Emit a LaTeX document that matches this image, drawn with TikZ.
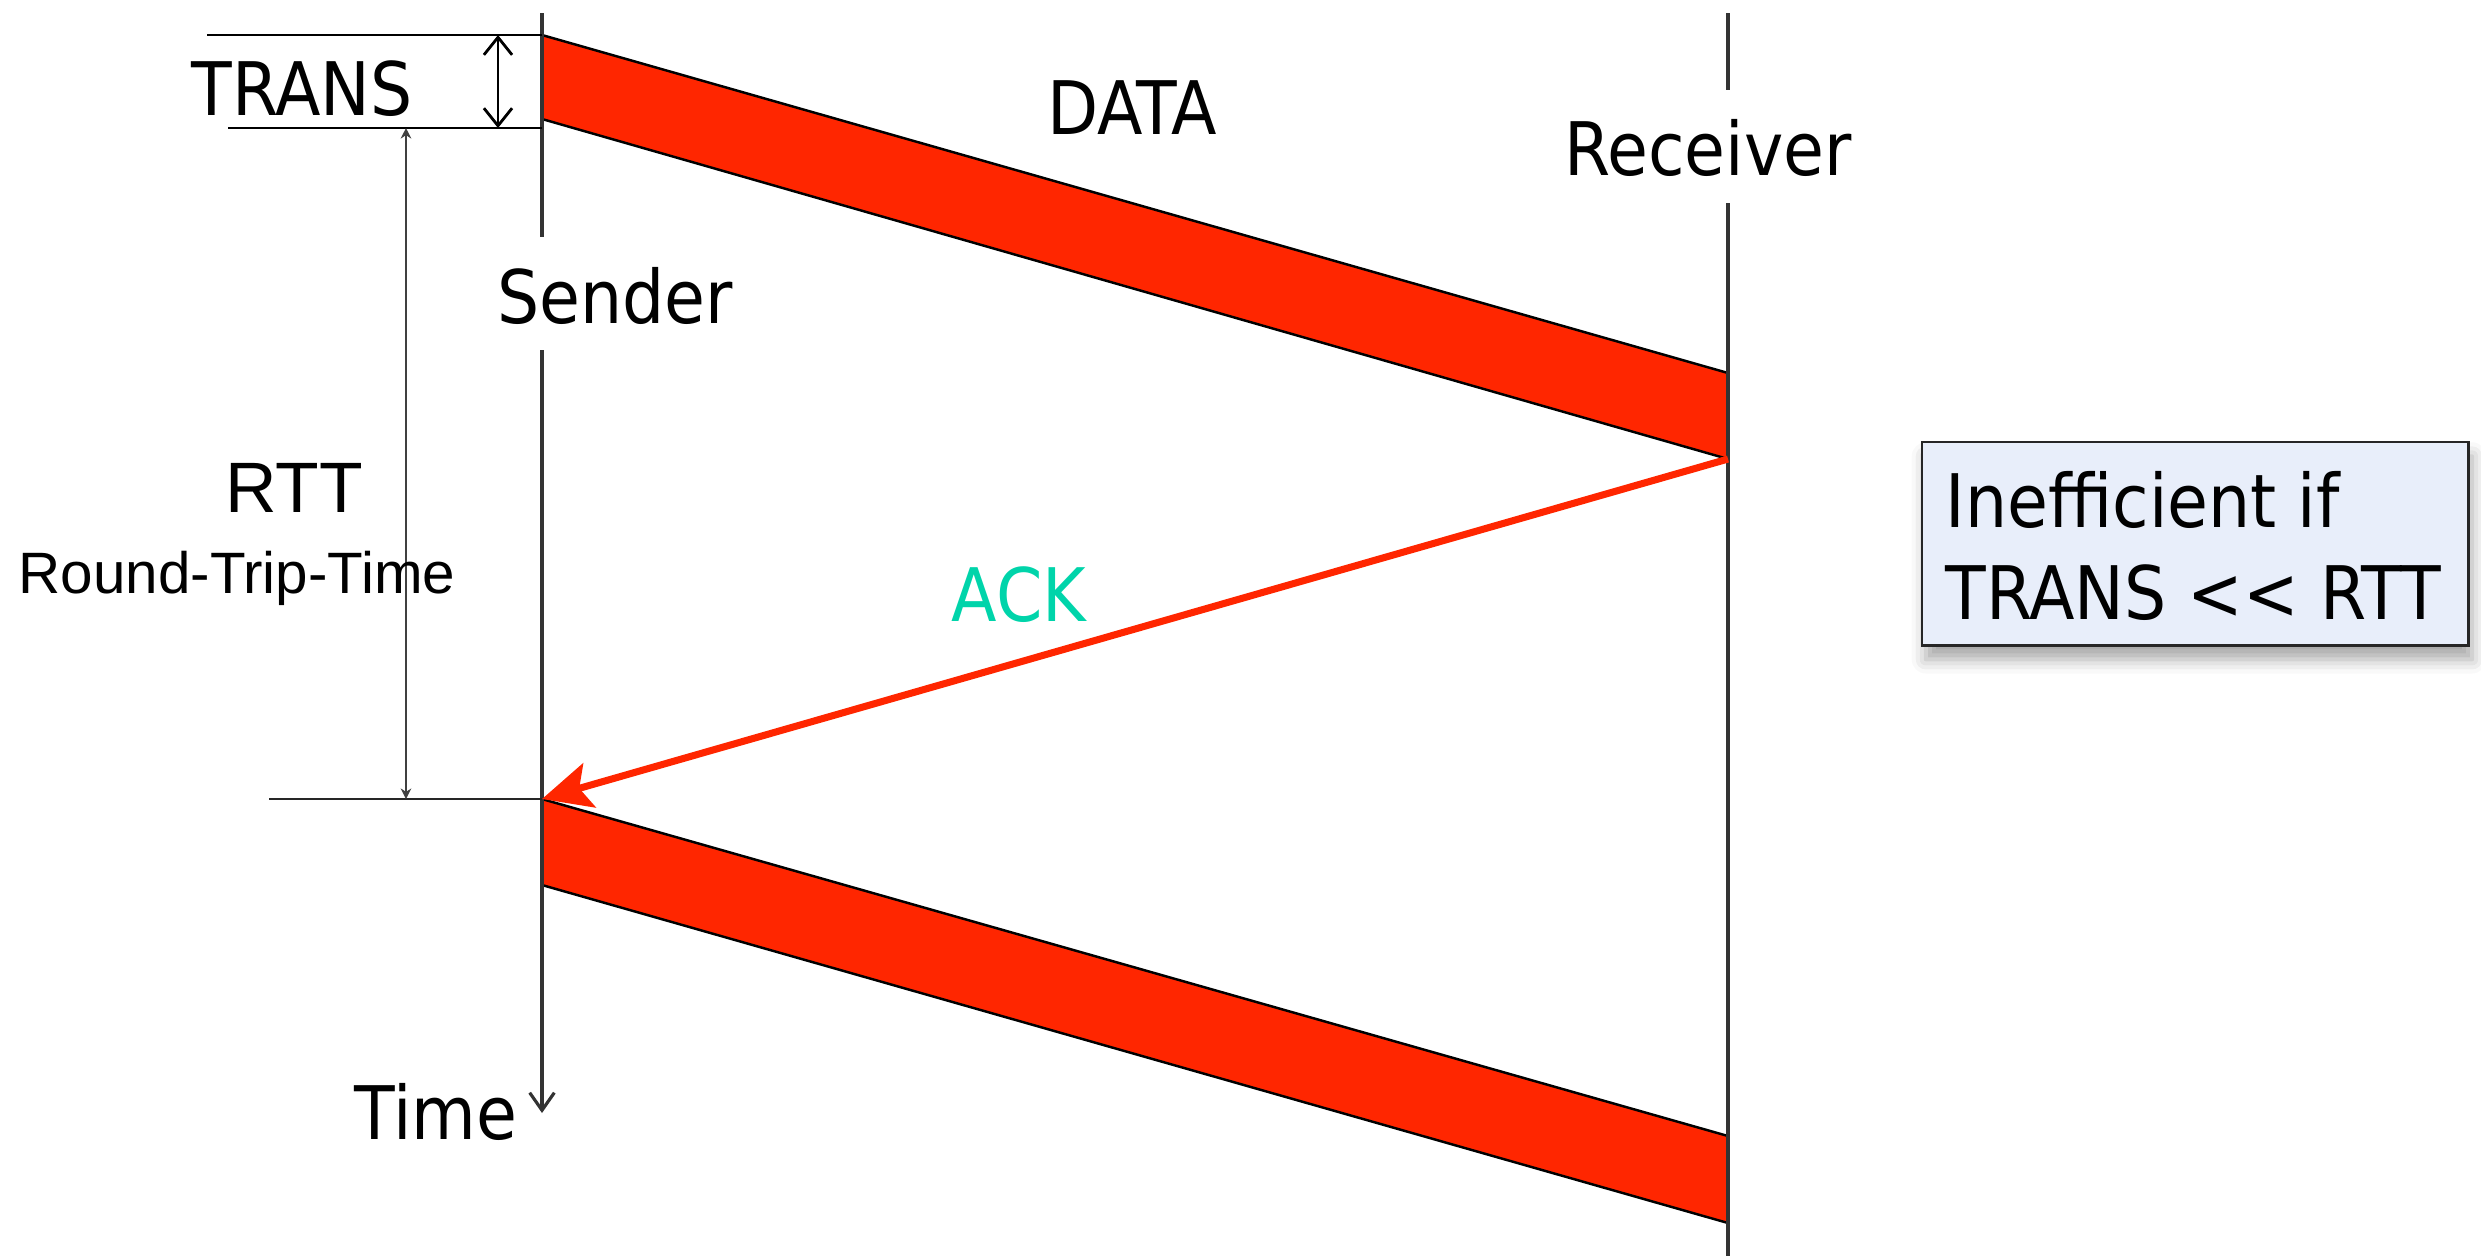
\documentclass[tikz,border=0pt]{standalone}
\usepackage{fontspec}
\setmainfont{DejaVu Sans Condensed}
\newfontfamily\arialfont{Liberation Sans}
\usetikzlibrary{arrows.meta,shadows.blur}
\definecolor{pktred}{RGB}{255,38,0}
\definecolor{ackgreen}{RGB}{0,212,170}
\definecolor{notefill}{RGB}{232,238,250}
\tikzset{
  label/.style={inner sep=0pt, anchor=base, font=\fontsize{21}{25}\selectfont},
  timeline/.style={line width=0.9pt, black!80},
  guide/.style={line width=0.8pt, black},
  packet/.style={fill=pktred, draw=black, line width=0.7pt, line join=miter},
  measure/.style={line width=0.5pt, black!75},
}
\begin{document}
\begin{tikzpicture}[x=0.01cm,y=-0.01cm]
\useasboundingbox (0,0) rectangle (2481,1256);

% anchor points of the two time lines
\coordinate (s0) at (542,13);
\coordinate (s1) at (542,237);
\coordinate (s2) at (542,350);
\coordinate (s3) at (542,1113);
\coordinate (r0) at (1728,13);
\coordinate (r1) at (1728,90);
\coordinate (r2) at (1728,203);
\coordinate (r3) at (1728,1256);

% data packets (first and second transmission)
\coordinate (d1a) at (542,35);
\coordinate (d1b) at (1728,373);
\coordinate (d1c) at (1728,459);
\coordinate (d1d) at (542,119);
\coordinate (d2a) at (542,799);
\coordinate (d2b) at (1728,1136);
\coordinate (d2c) at (1728,1223);
\coordinate (d2d) at (542,885);
\draw[packet] (d1a) -- (d1b) -- (d1c) -- (d1d) -- cycle;
\draw[packet] (d2a) -- (d2b) -- (d2c) -- (d2d) -- cycle;

% sender and receiver time lines
\draw[timeline] (s0) -- (s1);
\draw[timeline, -{Straight Barb[length=5pt,width=7pt]}] (s2) -- (s3);
\draw[timeline] (r0) -- (r1);
\draw[timeline] (r2) -- (r3);

% TRANS markers
\coordinate (t0) at (207,35);
\coordinate (t1) at (228,128);
\coordinate (t2) at (542,128);
\coordinate (ta) at (498,35);
\coordinate (tb) at (498,128);
\draw[guide] (t0) -- (d1a);
\draw[guide] (t1) -- (t2);
\draw[guide, {Straight Barb[length=5pt,width=8pt]}-{Straight Barb[length=5pt,width=8pt]}] (ta) -- (tb);

% RTT markers
\coordinate (u0) at (269,799);
\coordinate (ua) at (406,128);
\coordinate (ub) at (406,799);
\draw[guide, black!85] (u0) -- (d2a);
\draw[measure, {Stealth[length=3pt,width=3pt]}-{Stealth[length=3pt,width=3pt]}] (ua) -- (ub);

% acknowledgement
\draw[pktred, line width=2pt, -{Stealth[length=14pt,width=13pt,inset=3pt]}] (d1c) -- (d2a);

% labels
\node[label] (trans) at (302,115) {TRANS};
\node[label] (data) at (1132,134) {DATA};
\node[label] (recv) at (1708,175) {Receiver};
\node[label] (send) at (615,323) {Sender};
\node[label, font=\arialfont\fontsize{20.3}{25}\selectfont] (rtt) at (294,512) {RTT};
\node[label, font=\arialfont\fontsize{16.6}{20}\selectfont] (rttlong) at (237,593) {Round-Trip-Time};
\node[label, text=ackgreen] (ack) at (1019,621) {ACK};
\node[label] (time) at (436,1139) {Time};

% note box
\node[draw=black!85, line width=0.7pt, fill=notefill, minimum width=5.46cm, minimum height=2.03cm,
      anchor=north west, inner sep=0pt,
      blur shadow={shadow xshift=1pt, shadow yshift=-4pt, shadow blur radius=4pt, shadow opacity=35}]
      (note) at (1921,441) {};
\node[label, anchor=base west] (note1) at (1945,527) {Inefficient if};
\node[label, anchor=base west] (note2) at (1945,619) {TRANS <{}< RTT};
\end{tikzpicture}
\end{document}
